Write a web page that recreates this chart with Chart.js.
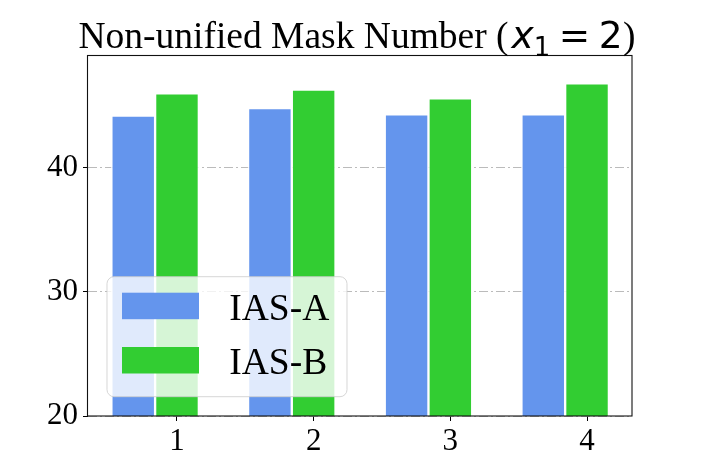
<!DOCTYPE html>
<html>
<head>
<meta charset="utf-8">
<title>Non-unified Mask Number</title>
<script src="https://cdn.jsdelivr.net/npm/chart.js@4.4.0/dist/chart.umd.min.js"></script>
<style>
  html, body { margin: 0; padding: 0; background: #fff; }
  canvas { display: block; }
</style>
</head>
<body>
<canvas id="maskChart" width="702" height="468"></canvas>
<script>
// Mask number 1..4, score of IAS-A vs IAS-B (x1 = 2)
const categories = [1, 2, 3, 4];
const seriesNames = ['IAS-A', 'IAS-B'];
const iasA = [44.2, 44.8, 44.3, 44.3];
const iasB = [46.0, 46.3, 45.6, 46.8];
const yTicks = [20, 30, 40];

const BAR_W = 0.32;   // bar width in x units; IAS-B sits on the tick, IAS-A just left of it
const SERIF = '"Liberation Serif", "Times New Roman", serif';
const MATH = '"DejaVu Sans", sans-serif';
const COLORS = ['#6495ED', '#32CD32'];

const datasets = [
  {
    label: seriesNames[0],
    data: categories.map((c, i) => ({ x: c - BAR_W, y: iasA[i] })),
    backgroundColor: COLORS[0]
  },
  {
    label: seriesNames[1],
    data: categories.map((c, i) => ({ x: c, y: iasB[i] })),
    backgroundColor: COLORS[1]
  }
].map(d => Object.assign(d, {
  borderColor: 'rgba(255,255,255,0.85)',
  borderWidth: 1.5,
  grouped: false,
  barPercentage: 1,
  categoryPercentage: 1
}));

// frame around the plot area
const framePlugin = {
  id: 'frame',
  afterDraw(chart) {
    const { ctx, chartArea: ca } = chart;
    ctx.save();
    ctx.strokeStyle = '#111';
    ctx.lineWidth = 1.1;
    ctx.strokeRect(ca.left - 0.5, ca.top - 0.5, ca.right - ca.left + 0.5, ca.bottom - ca.top + 0.5);
    ctx.restore();
  }
};

// legend box inside the lower left of the plot
const legendPlugin = {
  id: 'innerLegend',
  afterDraw(chart) {
    const { ctx, chartArea: ca } = chart;
    const bx = ca.left + 19, by = ca.bottom - 139.3, bw = 240, bh = 120;
    ctx.save();
    ctx.beginPath();
    ctx.roundRect(bx, by, bw, bh, 7);
    ctx.fillStyle = 'rgba(255,255,255,0.8)';
    ctx.fill();
    ctx.strokeStyle = 'rgba(204,204,204,0.8)';
    ctx.lineWidth = 1;
    ctx.stroke();
    chart.data.datasets.forEach((ds, i) => {
      const ry = by + 16 + i * 54.3;
      ctx.fillStyle = ds.backgroundColor;
      ctx.fillRect(bx + 15, ry, 77, 26.5);
      ctx.fillStyle = '#000';
      ctx.font = `37.5px ${SERIF}`;
      ctx.textBaseline = 'alphabetic';
      ctx.textAlign = 'left';
      ctx.fillText(ds.label, bx + 122.3, by + 43.3 + i * 54);
    });
    ctx.restore();
  }
};

// title with a small math part
const titlePlugin = {
  id: 'mixedTitle',
  afterDraw(chart) {
    const { ctx, chartArea: ca } = chart;
    const parts = [
      { t: 'Non-unified Mask Number (', f: `37.5px ${SERIF}`, gap: 0, dy: 0 },
      { t: 'x', f: `italic 37.5px ${MATH}`, gap: 3, dy: 0 },
      { t: '1', f: `26px ${MATH}`, gap: 0, dy: 8 },
      { t: '=', f: `37.5px ${MATH}`, gap: 8.5, dy: 0 },
      { t: '2', f: `37.5px ${MATH}`, gap: 8.5, dy: 0 },
      { t: ')', f: `37.5px ${SERIF}`, gap: 0.5, dy: 0 }
    ];
    ctx.save();
    let total = 0;
    parts.forEach(p => { ctx.font = p.f; p.w = ctx.measureText(p.t).width; total += p.gap + p.w; });
    let x = (ca.left + ca.right) / 2 - 3 - total / 2;
    const base = 47.7;
    ctx.fillStyle = '#000';
    ctx.textBaseline = 'alphabetic';
    ctx.textAlign = 'left';
    parts.forEach(p => {
      x += p.gap;
      ctx.font = p.f;
      ctx.fillText(p.t, x, base + p.dy);
      x += p.w;
    });
    ctx.restore();
  }
};

new Chart(document.getElementById('maskChart'), {
  type: 'bar',
  data: { datasets: datasets },
  options: {
    responsive: false,
    animation: false,
    devicePixelRatio: 1,
    layout: { padding: { top: 56, right: 70, left: 0, bottom: 0 } },
    plugins: {
      legend: { display: false },
      title: { display: false },
      tooltip: { enabled: false }
    },
    scales: {
      x: {
        type: 'linear',
        min: 0.349,
        max: 4.329,
        offset: false,
        afterBuildTicks: s => { s.ticks = categories.map(v => ({ value: v })); },
        afterFit: s => { s.height = 52; },
        grid: { offset: false, drawOnChartArea: false, tickColor: '#000', tickLength: 5, tickWidth: 1 },
        border: { display: false },
        ticks: {
          color: '#000',
          font: { family: SERIF, size: 31 },
          padding: 2,
          callback: v => String(v)
        }
      },
      y: {
        type: 'linear',
        min: 20,
        max: 49,
        z: 1,
        afterBuildTicks: s => { s.ticks = yTicks.map(v => ({ value: v })); },
        afterFit: s => { s.width = 88; },
        grid: { color: 'rgba(170,170,170,0.8)', lineWidth: 1, tickColor: '#000', tickLength: 5, tickWidth: 1 },
        border: { display: false, dash: [9, 3, 2, 3] },
        ticks: {
          color: '#000',
          font: { family: SERIF, size: 31 },
          padding: 5
        }
      }
    }
  },
  plugins: [framePlugin, legendPlugin, titlePlugin]
});
</script>
</body>
</html>
